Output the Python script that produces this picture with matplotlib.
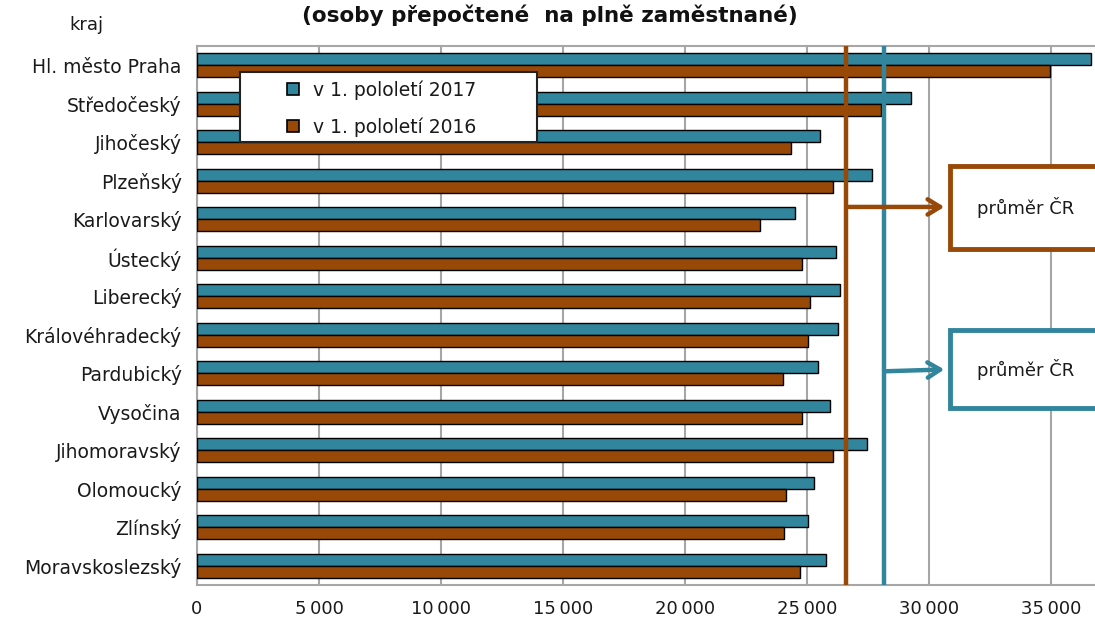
import numpy as np
import matplotlib.pyplot as plt
from matplotlib.lines import Line2D
from matplotlib.patches import Rectangle

plt.rcParams['font.family'] = ['DejaVu Sans']

kraje = ['Hl. město Praha', 'Středočeský', 'Jihočeský', 'Plzeňský', 'Karlovarský',
         'Ústecký', 'Liberecký', 'Královéhradecký', 'Pardubický', 'Vysočina',
         'Jihomoravský', 'Olomoucký', 'Zlínský', 'Moravskoslezský']
mzda_2017 = [36640, 29240, 25520, 27650, 24520, 26180, 26350, 26260, 25440, 25940,
             27470, 25270, 25040, 25770]
mzda_2016 = [34940, 28020, 24350, 26080, 23070, 24780, 25110, 25030, 24030, 24790,
             26080, 24130, 24040, 24700]
prumer_2016 = 26590
prumer_2017 = 28140
xticks = [0, 5000, 10000, 15000, 20000, 25000, 30000, 35000]
xticklabels = ['0', '5\u2009000', '10\u2009000', '15\u2009000', '20\u2009000',
               '25\u2009000', '30\u2009000', '35\u2009000']

teal = '#31859C'
orange = '#984807'

fig = plt.figure(figsize=(10.95, 6.21), dpi=100)
ax = fig.add_axes([197/1095, 36/621, 898/1095, 539/621])

y = np.arange(len(kraje))
h = 0.31
ax.barh(y - h/2, mzda_2017, height=h, color=teal, edgecolor='black', linewidth=1.0, zorder=3)
ax.barh(y + h/2, mzda_2016, height=h, color=orange, edgecolor='black', linewidth=1.0, zorder=3)

ax.set_ylim(13.5, -0.5)
ax.set_xlim(0, 36800)
ax.set_yticks(y)
ax.set_yticklabels(kraje, fontsize=13.5, color='#1a1a1a')
ax.set_xticks(xticks)
ax.set_xticklabels(xticklabels, fontsize=13, color='#1a1a1a')
ax.tick_params(axis='y', length=0, pad=11)
ax.tick_params(axis='x', length=0, pad=11)
ax.grid(axis='x', color='#a6a6a6', linewidth=1.5, zorder=0)
for s in ['left', 'top', 'bottom']:
    ax.spines[s].set_color('#a6a6a6')
    ax.spines[s].set_linewidth(1.5)
ax.spines['right'].set_visible(False)

# prumer CR
ax.axvline(prumer_2016, color=orange, linewidth=3.2, zorder=4)
ax.axvline(prumer_2017, color=teal, linewidth=3.2, zorder=4)

box_x = 30860
ax.annotate('', xy=(box_x - 120, 3.68), xytext=(prumer_2016, 3.68),
            arrowprops=dict(arrowstyle='->,head_length=0.9,head_width=0.55',
                            color=orange, lw=3.2), annotation_clip=False, zorder=5)
ax.annotate('', xy=(box_x - 120, 7.9), xytext=(prumer_2017, 7.95),
            arrowprops=dict(arrowstyle='->,head_length=0.9,head_width=0.55',
                            color=teal, lw=3.2), annotation_clip=False, zorder=5)
ax.add_patch(Rectangle((box_x, 2.62), 6500, 2.15, facecolor='white', edgecolor=orange,
                       linewidth=3.5, clip_on=False, zorder=6))
ax.add_patch(Rectangle((box_x, 6.88), 6500, 2.02, facecolor='white', edgecolor=teal,
                       linewidth=3.5, clip_on=False, zorder=6))
ax.text(33950, 3.7, 'průměr ČR', ha='center', va='center', fontsize=13,
        color='#1a1a1a', zorder=7)
ax.text(33950, 7.9, 'průměr ČR', ha='center', va='center', fontsize=13,
        color='#1a1a1a', zorder=7)

# legenda - ramecek zvlast
fig.patches.append(Rectangle((240/1095, 1 - 142/621), 297/1095, 70/621,
                             transform=fig.transFigure, facecolor='white',
                             edgecolor='#222222', linewidth=1.5, zorder=5))
handles = [Line2D([], [], marker='s', linestyle='none', markersize=9,
                  markerfacecolor=teal, markeredgecolor='black', markeredgewidth=1.2),
           Line2D([], [], marker='s', linestyle='none', markersize=9,
                  markerfacecolor=orange, markeredgecolor='black', markeredgewidth=1.2)]
leg = fig.legend(handles, ['v 1. pololetí 2017', 'v 1. pololetí 2016'],
                 loc='upper left', bbox_to_anchor=(285/1095, 1 - 80/621),
                 fontsize=13.5, frameon=False, borderpad=0, labelspacing=0.95,
                 handletextpad=0.7, borderaxespad=0, handlelength=0.8)
leg.set_zorder(6)
for t in leg.get_texts():
    t.set_color('#1a1a1a')

fig.text(86/1095, 1 - 30/621, 'kraj', ha='center', fontsize=13, color='#1a1a1a')
fig.text(550/1095, 1 - 22/621, '(osoby přepočtené  na plně zaměstnané)', ha='center',
         va='baseline', fontsize=15.5, fontweight='bold', color='#111111')

fig.savefig('out.png', dpi=100)
